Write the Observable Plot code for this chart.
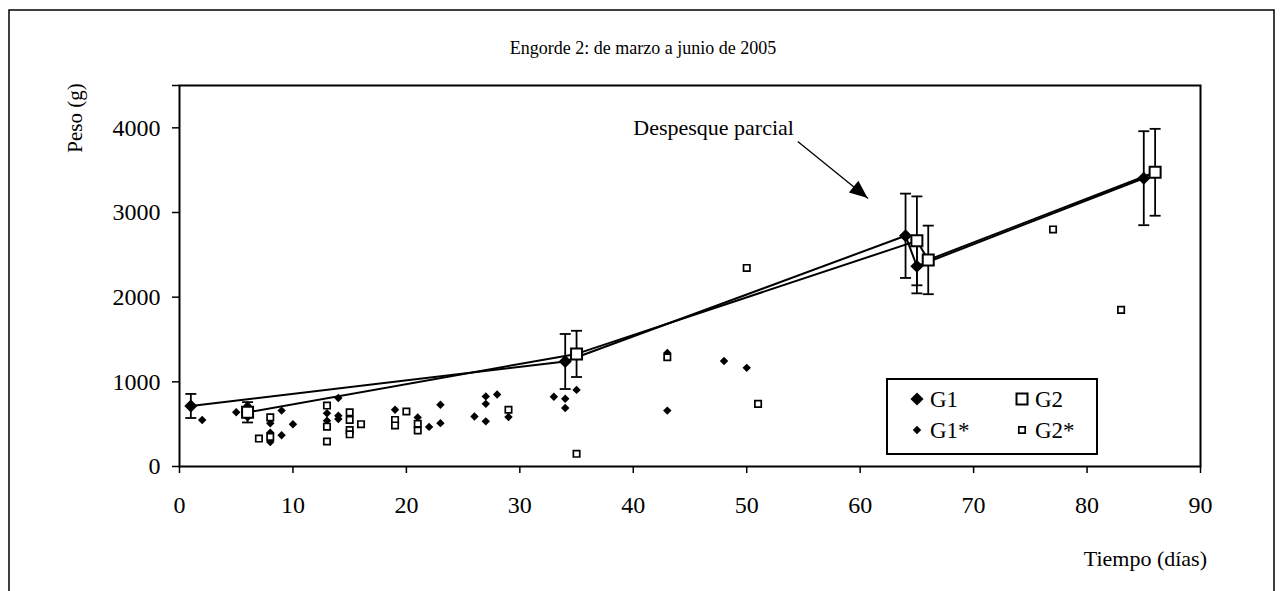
<!DOCTYPE html>
<html><head><meta charset="utf-8">
<script src="https://cdn.jsdelivr.net/npm/d3@7"></script>
<script src="https://cdn.jsdelivr.net/npm/@observablehq/plot@0.6"></script>
<style>body{margin:0;background:#fff;} svg{display:block}</style>
</head><body><div id="chart"></div>
<script>
const title = "Engorde 2: de marzo a junio de 2005";
const xLabel = "Tiempo (días)";
const yLabel = "Peso (g)";
const xTicks = [0,10,20,30,40,50,60,70,80,90];
const yTicks = [0,1000,2000,3000,4000];
const yMax = 4500;

// Group means with error bars
const g1Days = [1,34,64,65,85];
const g1Mean = [715,1240,2725,2365,3405];
const g1Err  = [142,325,498,320,555];
const g2Days = [6,35,65,66,86];
const g2Mean = [640,1330,2665,2440,3475];
const g2Err  = [120,273,525,405,513];

// Individual observations
const g1sDays = [2,5,6,6,8,8,8,9,9,10,13,13,14,14,14,19,21,22,23,23,26,27,27,27,28,29,33,34,34,35,43,43,48,50];
const g1sPeso = [550,640,720,580,510,400,290,660,370,500,630,540,810,560,600,670,580,468,730,512,590,828,740,533,850,585,823,800,692,905,1340,660,1245,1165];
const g2sDays = [7,8,8,13,13,13,15,15,15,15,16,19,19,20,21,21,29,35,43,50,51,77,83];
const g2sPeso = [330,580,350,720,470,295,640,550,430,380,500,550,485,650,505,425,670,150,1290,2345,740,2800,1850];

const legendLabels = ["G1","G2","G1*","G2*"];
const annotText = "Despesque parcial";
const annotAt = [40, 4000];
const arrowFrom = [54.5, 3840];
const arrowTo = [60.7, 3165];

const g1 = g1Days.map((d,i)=>({day:d, mean:g1Mean[i], err:g1Err[i]}));
const g2 = g2Days.map((d,i)=>({day:d, mean:g2Mean[i], err:g2Err[i]}));
const g1s = g1sDays.map((d,i)=>({day:d, peso:g1sPeso[i]}));
const g2s = g2sDays.map((d,i)=>({day:d, peso:g2sPeso[i]}));

const FONT = "Liberation Serif";
const capSymbol = {draw(ctx){ ctx.moveTo(-5.5,0); ctx.lineTo(5.5,0); }};
const R = {bigD:5.9, smallD:3.8, bigS:6.2, smallS:3.6};

function bars(data){
  return [
    Plot.ruleX(data, {x:"day", y1:d=>d.mean-d.err, y2:d=>d.mean+d.err, stroke:"#000", strokeWidth:1.8}),
    Plot.dot(data, {x:"day", y:d=>d.mean-d.err, symbol:capSymbol, r:3, stroke:"#000", strokeWidth:1.8, fill:"none"}),
    Plot.dot(data, {x:"day", y:d=>d.mean+d.err, symbol:capSymbol, r:3, stroke:"#000", strokeWidth:1.8, fill:"none"})
  ];
}

const plot = Plot.plot({
  width:1282, height:591,
  marginLeft:179, marginRight:82, marginTop:85, marginBottom:125,
  style:{fontFamily:FONT, fontSize:"24px", color:"#000", background:"#fff", overflow:"visible"},
  x:{domain:[0,90]},
  y:{domain:[0,yMax]},
  marks:[
    Plot.axisX({ticks:xTicks, tickSize:7, tickPadding:22, label:null, strokeWidth:1.5, fontSize:24}),
    Plot.axisY({ticks:[...yTicks, yMax], tickFormat:d=>yTicks.includes(d)?String(d):"", tickSize:7, tickPadding:12, label:null, strokeWidth:1.5, fontSize:24}),
    Plot.frame({stroke:"#000", strokeWidth:2}),
    Plot.dot(g1s, {x:"day", y:"peso", symbol:"diamond2", r:R.smallD, fill:"#000"}),
    Plot.dot(g2s, {x:"day", y:"peso", symbol:"square", r:R.smallS, fill:"#fff", stroke:"#000", strokeWidth:1.7}),
    Plot.line(g1, {x:"day", y:"mean", stroke:"#000", strokeWidth:2}),
    Plot.line(g2, {x:"day", y:"mean", stroke:"#000", strokeWidth:2}),
    ...bars(g1), ...bars(g2),
    Plot.dot(g1, {x:"day", y:"mean", symbol:"diamond2", r:R.bigD, fill:"#000"}),
    Plot.dot(g2, {x:"day", y:"mean", symbol:"square", r:R.bigS, fill:"#fff", stroke:"#000", strokeWidth:2}),
    Plot.text([annotText], {x:()=>annotAt[0], y:()=>annotAt[1], text:d=>d, textAnchor:"start", fontSize:22}),
    Plot.link([0], {x1:()=>arrowFrom[0], y1:()=>arrowFrom[1], x2:()=>arrowTo[0], y2:()=>arrowTo[1], stroke:"#000", strokeWidth:1.3})
  ]
});
document.getElementById("chart").appendChild(plot);

const svg = d3.select(plot);
const sx = plot.scale("x"), sy = plot.scale("y");
// arrow head (filled triangle)
{
  const x1 = sx.apply(arrowFrom[0]), y1 = sy.apply(arrowFrom[1]);
  const x2 = sx.apply(arrowTo[0]), y2 = sy.apply(arrowTo[1]);
  const L = Math.hypot(x2-x1, y2-y1), ux = (x2-x1)/L, uy = (y2-y1)/L;
  const len = 18, hw = 7.5;
  const bx = x2 - ux*len, by = y2 - uy*len;
  svg.append("path")
    .attr("d", `M${x2},${y2}L${bx - uy*hw},${by + ux*hw}L${bx + uy*hw},${by - ux*hw}Z`)
    .attr("fill", "#000");
}
// outer frame
svg.append("path").attr("d","M9,591V10H1274V591").attr("fill","none").attr("stroke","#000").attr("stroke-width",1.5);
// title and axis labels
svg.append("text").attr("x",643).attr("y",48).attr("text-anchor","middle").attr("dominant-baseline","central")
  .attr("font-family",FONT).attr("font-size",18).attr("fill","#000").text(title);
svg.append("text").attr("transform","translate(75,118) rotate(-90)").attr("text-anchor","middle").attr("dominant-baseline","central")
  .attr("font-family",FONT).attr("font-size",21).attr("fill","#000").text(yLabel);
svg.append("text").attr("x",1207).attr("y",558).attr("text-anchor","end").attr("dominant-baseline","central")
  .attr("font-family",FONT).attr("font-size",22).attr("fill","#000").text(xLabel);
// legend
{
  const g = svg.append("g");
  g.append("rect").attr("x",887).attr("y",379).attr("width",210).attr("height",75).attr("fill","#fff").attr("stroke","#000").attr("stroke-width",2);
  const items = [
    {t:legendLabels[0], type:d3.symbolDiamond2, r:R.bigD, x:917, y:399, fill:"#000", stroke:"none", sw:0},
    {t:legendLabels[1], type:d3.symbolSquare, r:R.bigS, x:1022, y:399, fill:"#fff", stroke:"#000", sw:2},
    {t:legendLabels[2], type:d3.symbolDiamond2, r:R.smallD, x:917, y:430, fill:"#000", stroke:"none", sw:0},
    {t:legendLabels[3], type:d3.symbolSquare, r:R.smallS, x:1022, y:430, fill:"#fff", stroke:"#000", sw:1.7}
  ];
  for (const it of items){
    g.append("path").attr("transform",`translate(${it.x},${it.y})`)
      .attr("d", d3.symbol().type(it.type).size(Math.PI*it.r*it.r)())
      .attr("fill", it.fill).attr("stroke", it.stroke).attr("stroke-width", it.sw);
    g.append("text").attr("x", it.x+13).attr("y", it.y).attr("text-anchor","start").attr("dominant-baseline","central")
      .attr("font-family",FONT).attr("font-size",23).attr("fill","#000").text(it.t);
  }
}
</script>
</body></html>
